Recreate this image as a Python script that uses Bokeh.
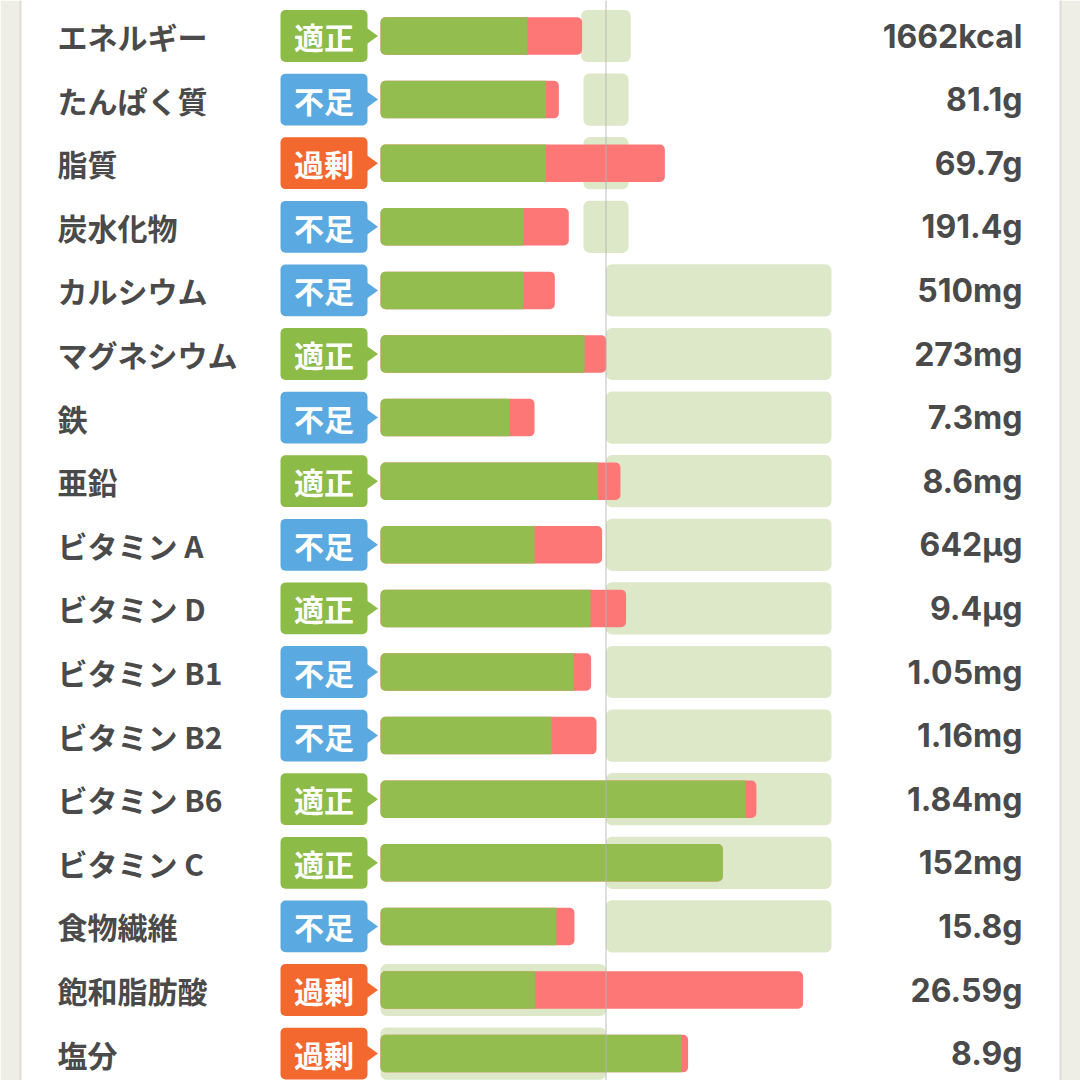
from bokeh.plotting import figure
from bokeh.models import Range1d, ColumnDataSource, Span, BoxAnnotation
from bokeh.core.properties import value
from bokeh.embed import file_html
from bokeh.resources import INLINE

# ---------------- data ----------------
nutrients = ["エネルギー", "たんぱく質", "脂質", "炭水化物", "カルシウム", "マグネシウム",
             "鉄", "亜鉛", "ビタミン A", "ビタミン D", "ビタミン B1", "ビタミン B2",
             "ビタミン B6", "ビタミン C", "食物繊維", "飽和脂肪酸", "塩分"]
status = ["適正", "不足", "過剰", "不足", "不足", "適正", "不足", "適正", "不足", "適正",
          "不足", "不足", "適正", "適正", "不足", "過剰", "過剰"]
amounts = ["1662kcal", "81.1g", "69.7g", "191.4g", "510mg", "273mg", "7.3mg", "8.6mg",
           "642μg", "9.4μg", "1.05mg", "1.16mg", "1.84mg", "152mg", "15.8g", "26.59g", "8.9g"]
# percent of reference amount (green part, and total incl. red part)
green_pct = [65.1, 73.2, 73.2, 63.3, 63.3, 90.5, 57.3, 96.5, 68.3, 93.1,
             85.7, 75.8, 161.9, 151.8, 78.0, 68.5, 133.4]
total_pct = [89.4, 79.1, 126.1, 83.5, 77.3, 100.1, 68.3, 106.4, 98.3, 108.9,
             93.4, 95.8, 166.7, 151.8, 86.0, 187.4, 136.4]
target_lo = [89, 90, 90, 90, 100, 100, 100, 100, 100, 100, 100, 100, 100, 100, 100, 0, 0]
target_hi = [111, 110, 110, 110, 200, 200, 200, 200, 200, 200, 200, 200, 200, 200, 200, 100, 100]
reference_pct = 100

# ---------------- layout ----------------
W = H = 1080
OFF = 0
X0 = 380.0           # screen x of 0 %
SCALE = 2.255        # px per %
ROW_Y0 = 35.5        # screen y of first row centre
ROW_STEP = 63.6


def px(x):
    return (x - X0) / SCALE


rows = list(range(len(nutrients)))

badge_colors = {"適正": "#8dbb47", "不足": "#5aa9e0", "過剰": "#f3682e"}

p = figure(width=W, height=H, output_backend="svg", toolbar_location=None,
           x_range=Range1d(px(OFF), px(OFF + W)),
           y_range=Range1d((OFF + H - ROW_Y0) / ROW_STEP, (OFF - ROW_Y0) / ROW_STEP),
           x_axis_location=None, y_axis_location=None, min_border=0)
p.grid.visible = False
p.outline_line_color = None
p.background_fill_color = "white"
p.border_fill_color = "white"

# side strips
p.add_layout(BoxAnnotation(right=px(20), fill_color="#eeede6", fill_alpha=1, line_alpha=0))
p.add_layout(BoxAnnotation(left=px(1060), fill_color="#eeede6", fill_alpha=1, line_alpha=0))
p.add_layout(Span(location=px(20), dimension="height", line_color="#dddbd2", line_width=2))
p.add_layout(Span(location=px(1060), dimension="height", line_color="#dddbd2", line_width=2))

src = ColumnDataSource(dict(
    y=rows, name=nutrients, status=status, amount=amounts,
    green=green_pct, total=total_pct, lo=target_lo, hi=target_hi,
    bcolor=[badge_colors[s] for s in status],
    zero=[0] * len(rows),
    bl=[px(280)] * len(rows), br=[px(367)] * len(rows),
    lx=[px(57)] * len(rows), bx=[px(323.5)] * len(rows), vx=[px(1022)] * len(rows),
))

# target ranges
p.hbar(y="y", left="lo", right="hi", height=0.82, source=src,
       fill_color="#dde8c9", line_color=None, border_radius=6)

# bars: red total, green portion on top
p.hbar(y="y", left="zero", right="total", height=0.59, source=src,
       fill_color="#fd7777", line_color=None, border_radius=5)
g_part = [i for i in rows if total_pct[i] > green_pct[i]]
g_full = [i for i in rows if total_pct[i] <= green_pct[i]]
p.hbar(y=[i for i in g_part], left=0, right=[green_pct[i] for i in g_part], height=0.59,
       fill_color="#94bd4f", line_color=None, border_radius=(5, 0, 0, 5))
p.hbar(y=[i for i in g_full], left=0, right=[green_pct[i] for i in g_full], height=0.59,
       fill_color="#94bd4f", line_color=None, border_radius=5)

# reference line
p.add_layout(Span(location=reference_pct, dimension="height",
                  line_color="#b5b5b5", line_width=1, line_alpha=0.9))

# badges
p.hbar(y="y", left="bl", right="br", height=0.815, source=src,
       fill_color="bcolor", line_color=None, border_radius=5)
tri_x = [[px(366), px(377.5), px(366)] for _ in rows]
tri_y = [[i - 0.13, i, i + 0.13] for i in rows]
p.patches(tri_x, tri_y, fill_color=[badge_colors[s] for s in status], line_color=None)
p.text(x="bx", y="y", text="status", source=src, text_font=value("Noto Sans CJK JP"),
       text_font_size="30px", text_font_style="bold", text_color="white",
       text_align="center", text_baseline="middle")

# nutrient names
p.text(x="lx", y="y", text="name", source=src, text_font=value("Noto Sans CJK JP"),
       text_font_size="30px", text_font_style="bold", text_color="#4a4a4a",
       text_align="left", text_baseline="middle")

# amounts
p.text(x="vx", y="y", text="amount", source=src, text_font=value("Inter"),
       text_font_size="32px", text_font_style="bold", text_color="#4a4a4a",
       text_align="right", text_baseline="middle")

open("out.html", "w").write(file_html(p, INLINE))
